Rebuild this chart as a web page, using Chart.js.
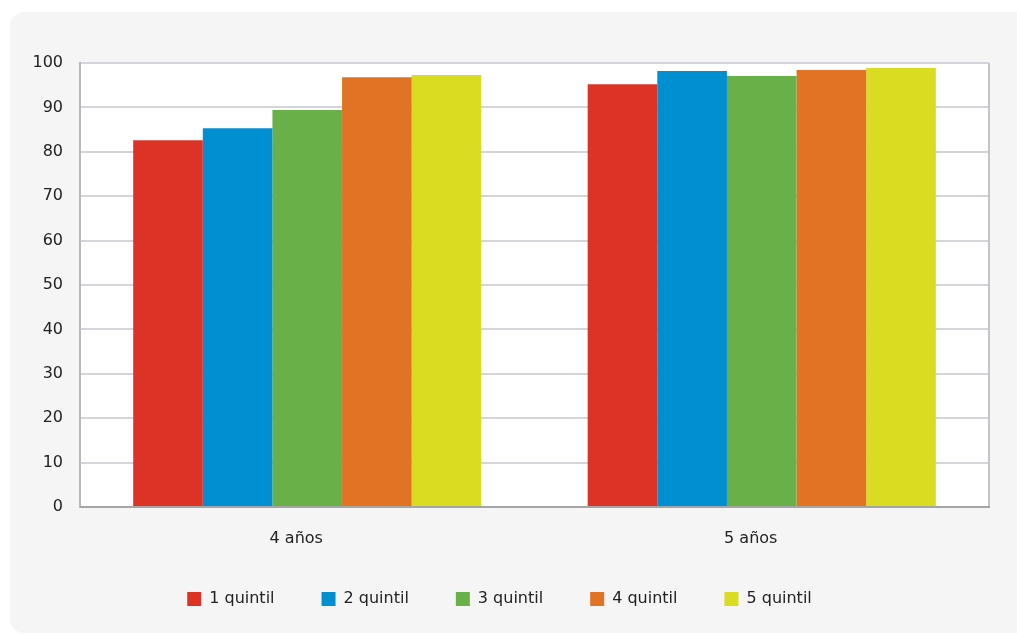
<!DOCTYPE html>
<html lang="es">
<head>
    <meta charset="UTF-8">
    <title>Asistencia por quintil</title>
    <script src="https://cdn.jsdelivr.net/npm/chart.js"></script>
    <style>
        html, body {
            margin: 0;
            padding: 0;
            background: #ffffff;
            overflow: hidden;
        }
        .panel {
            position: absolute;
            left: 10px;
            top: 12px;
            width: 1030px;
            height: 621px;
            background: #f5f5f5;
            border-radius: 14px;
        }
        .chart-box {
            position: absolute;
            left: 0;
            top: 0;
            width: 1017px;
            height: 634px;
        }
    </style>
</head>
<body>
    <div class="panel"></div>
    <div class="chart-box">
        <canvas id="quintilChart"></canvas>
    </div>

    <script>
        // Edades y series por quintil
        const edades = ['4 años', '5 años'];
        const quintiles = ['1 quintil', '2 quintil', '3 quintil', '4 quintil', '5 quintil'];
        const quintil1 = [82.6, 95.2];
        const quintil2 = [85.3, 98.2];
        const quintil3 = [89.4, 97.1];
        const quintil4 = [96.8, 98.4];
        const quintil5 = [97.3, 98.9];
        const colores = ['#dd3327', '#008fd0', '#68b047', '#e37324', '#d9dc21'];
        const yTicks = [0, 10, 20, 30, 40, 50, 60, 70, 80, 90, 100];

        const series = [quintil1, quintil2, quintil3, quintil4, quintil5];
        const fuente = { family: 'DejaVu Sans', size: 16 };

        // fondo blanco y marco del área de trazado
        const plotFrame = {
            id: 'plotFrame',
            afterLayout(chart) {
                // que las etiquetas del eje x no se recorten
                chart.scales.x.bottom = chart.height;
            },
            beforeDraw(chart) {
                const { ctx, chartArea: a } = chart;
                ctx.save();
                ctx.fillStyle = '#ffffff';
                ctx.fillRect(a.left, a.top, a.right - a.left, a.bottom - a.top);
                ctx.restore();
            },
            afterDatasetsDraw(chart) {
                const { ctx, chartArea: a } = chart;
                ctx.save();
                ctx.strokeStyle = '#c3c6c8';
                ctx.lineWidth = 2;
                ctx.beginPath();
                ctx.moveTo(a.right, a.top);
                ctx.lineTo(a.right, a.bottom);
                ctx.stroke();
                ctx.strokeStyle = '#a3a5a6';
                ctx.beginPath();
                ctx.moveTo(a.left, a.bottom);
                ctx.lineTo(a.right + 1, a.bottom);
                ctx.stroke();
                ctx.restore();
            }
        };

        const ctx = document.getElementById('quintilChart').getContext('2d');
        const chart = new Chart(ctx, {
            type: 'bar',
            data: {
                labels: edades,
                datasets: quintiles.map((q, i) => ({
                    label: q,
                    data: series[i],
                    backgroundColor: colores[i],
                    borderWidth: 0,
                    categoryPercentage: 0.766,
                    barPercentage: 1.0
                }))
            },
            options: {
                responsive: true,
                maintainAspectRatio: false,
                animation: false,
                layout: {
                    padding: { left: 10, right: 28, top: 63, bottom: 17 }
                },
                plugins: {
                    legend: {
                        position: 'bottom',
                        labels: {
                            boxWidth: 14,
                            boxHeight: 14,
                            padding: 47,
                            color: '#222222',
                            font: fuente
                        }
                    },
                    tooltip: { enabled: false }
                },
                scales: {
                    x: {
                        grid: { display: false },
                        border: { display: false },
                        ticks: {
                            color: '#222222',
                            padding: 14,
                            labelOffset: -11,
                            font: fuente
                        },
                        afterFit: s => { s.height = 37; }
                    },
                    y: {
                        min: 0,
                        max: 100,
                        afterBuildTicks: s => { s.ticks = yTicks.map(v => ({ value: v })); },
                        grid: {
                            color: '#d3d6d8',
                            lineWidth: 2,
                            drawTicks: false
                        },
                        border: { color: '#b7babc', width: 2 },
                        ticks: {
                            color: '#222222',
                            padding: 17,
                            font: fuente
                        },
                        afterFit: s => { s.width = 70; }
                    }
                }
            },
            plugins: [plotFrame]
        });
    </script>
</body>
</html>
